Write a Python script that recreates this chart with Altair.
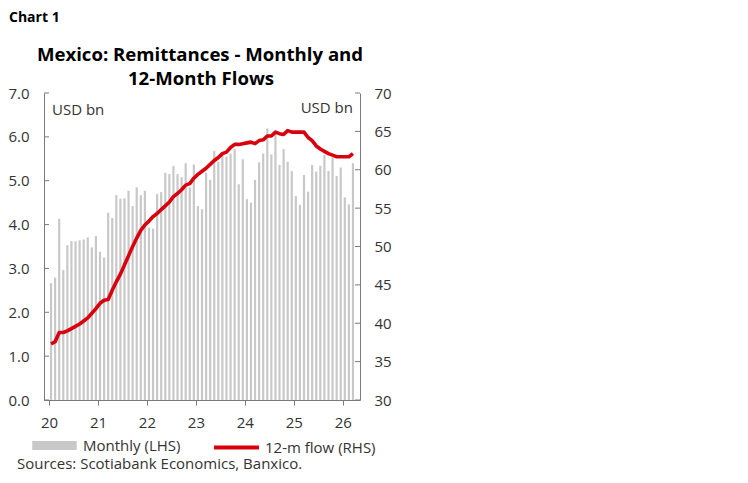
import altair as alt
import pandas as pd

# ---- data (Jan 2020 .. Mar 2026) ----
monthly = [2.66, 2.79, 4.13, 2.96, 3.53, 3.62, 3.62, 3.64, 3.66, 3.71, 3.48, 3.74,
           3.38, 3.25, 4.27, 4.15, 4.67, 4.59, 4.60, 4.77, 4.42, 4.85, 4.67, 4.77,
           3.93, 3.91, 4.70, 4.74, 5.18, 5.15, 5.34, 5.15, 5.08, 5.40, 4.85, 5.37,
           4.42, 4.35, 5.18, 5.02, 5.68, 5.43, 5.66, 5.55, 5.62, 5.72, 4.92, 5.49,
           4.58, 4.50, 5.02, 5.42, 5.62, 6.19, 5.60, 6.09, 5.36, 5.72, 5.43, 5.22,
           4.65, 4.45, 5.13, 4.75, 5.36, 5.21, 5.34, 5.59, 5.22, 5.53, 5.11, 5.30,
           4.62, 4.46, 5.40]
flow12 = [37.3, 37.6, 38.8, 38.8, 39.0, 39.3, 39.6, 39.9, 40.3, 40.7, 41.3, 41.9,
          42.6, 43.0, 43.1, 44.3, 45.4, 46.4, 47.6, 48.8, 50.0, 51.1, 52.1, 52.8,
          53.3, 53.9, 54.3, 54.8, 55.3, 55.8, 56.5, 56.9, 57.4, 58.0, 58.2, 58.9,
          59.4, 59.8, 60.2, 60.7, 61.2, 61.6, 62.1, 62.3, 62.9, 63.3, 63.3, 63.4,
          63.5, 63.6, 63.4, 63.8, 63.9, 64.4, 64.4, 64.9, 64.7, 64.6, 65.1, 64.9,
          64.9, 64.9, 64.9, 64.2, 63.8, 63.1, 62.7, 62.4, 62.1, 61.9, 61.7, 61.7,
          61.7, 61.7, 62.1]
year_labels = ["20", "21", "22", "23", "24", "25", "26"]
left_ticks = [0, 1, 2, 3, 4, 5, 6, 7]
right_ticks = [30, 35, 40, 45, 50, 55, 60, 65, 70]
series_names = ["Monthly (LHS)", "12-m flow (RHS)"]
title_lines = ["Mexico: Remittances - Monthly and", "12-Month Flows"]

n = len(monthly)
month_pos = [i + 0.5 for i in range(n)]
year_pos = [12 * k for k in range(len(year_labels))]

bars_df = pd.DataFrame({"m": month_pos, "v": monthly, "series": series_names[0]})
line_df = pd.DataFrame({"m": month_pos, "v": flow12, "series": series_names[1]})
lt_df = pd.DataFrame({"v": left_ticks})
rt_df = pd.DataFrame({"v": right_ticks})

GRAY = "#c8c8c8"
RED = "#d9000d"
AX = "#7a7a7a"
TXT = "#333333"
FONT = "Open Sans"
FS = 15
W, H = 316, 307

xscale = alt.Scale(domain=[0, n], nice=False, zero=False)
xaxis = alt.Axis(values=year_pos, labelExpr="datum.value/12 + 20", title=None,
                 tickSize=5, tickColor=AX, domainColor=AX, labelFontSize=FS,
                 labelColor=TXT, labelPadding=10, grid=False)
lscale = alt.Scale(domain=[0, 7], nice=False, zero=True)
laxis = alt.Axis(values=left_ticks, format=".1f", title=None, tickSize=0,
                 domainColor=AX, labelFontSize=FS, labelColor=TXT,
                 labelPadding=15, grid=False)
rscale = alt.Scale(domain=[30, 70], nice=False, zero=False)
raxis = alt.Axis(values=right_ticks, orient="right", title=None, tickSize=0,
                 domainColor=AX, labelFontSize=FS, labelColor=TXT,
                 labelPadding=14, grid=False)

fill = alt.Fill("series:N",
                scale=alt.Scale(domain=[series_names[0]], range=[GRAY]),
                legend=alt.Legend(orient="none", legendX=-12, legendY=330,
                                  title=None, labelFontSize=FS, labelColor=TXT,
                                  labelFont=FONT, symbolSize=1980, labelOffset=6,
                                  symbolType="M-1,-0.2H1V0.2H-1Z",
                                  symbolStrokeWidth=0, symbolOpacity=1))
stroke = alt.Stroke("series:N",
                    scale=alt.Scale(domain=[series_names[1]], range=[RED]),
                    legend=alt.Legend(orient="none", legendX=168, legendY=330,
                                      title=None, labelFontSize=FS, labelColor=TXT,
                                      labelFont=FONT, symbolSize=2025, labelOffset=4,
                                      symbolType="stroke", symbolStrokeWidth=4,
                                      symbolOpacity=1))

bars = alt.Chart(bars_df).mark_bar(width=2.2).encode(
    x=alt.X("m:Q", scale=xscale, axis=xaxis),
    y=alt.Y("v:Q", scale=lscale, axis=laxis),
    fill=fill,
)
lticks = alt.Chart(lt_df).mark_rule(color=AX, strokeWidth=1).encode(
    y=alt.Y("v:Q", scale=lscale, axis=laxis),
    x=alt.value(0), x2=alt.value(5),
)
line = alt.Chart(line_df).mark_line(strokeWidth=3.6, strokeJoin="round").encode(
    x=alt.X("m:Q", scale=xscale, axis=xaxis),
    y=alt.Y("v:Q", scale=rscale, axis=raxis),
    stroke=stroke,
)
rticks = alt.Chart(rt_df).mark_rule(color=AX, strokeWidth=1).encode(
    y=alt.Y("v:Q", scale=rscale, axis=raxis),
    x=alt.value(W - 5), x2=alt.value(W),
)

def label(txt, x, y, size=FS, weight="normal", align="left", color=TXT):
    return alt.Chart(pd.DataFrame({"t": [txt]})).mark_text(
        align=align, baseline="alphabetic", fontSize=size, fontWeight=weight,
        color=color, font=FONT
    ).encode(x=alt.value(x), y=alt.value(y), text="t:N")

notes = [
    label("Chart 1", -35, -71, size=14, weight="bold", color="#000000"),
    label(title_lines[0], 156, -32, size=18.6, weight="bold", align="center", color="#000000"),
    label(title_lines[1], 157, -8, size=18.6, weight="bold", align="center", color="#000000"),
    label("USD bn", 8, 22),
    label("USD bn", 309, 20, align="right"),
    label("Sources: Scotiabank Economics, Banxico.", -27, 376),
]

left = alt.layer(bars, lticks, *notes)
right = alt.layer(line, rticks)

chart = alt.layer(left, right).resolve_scale(y="independent").properties(
    width=W, height=H,
    autosize=alt.AutoSizeParams(type="none"),
    padding={"left": 36, "top": 85, "right": 48, "bottom": 80},
).configure(font=FONT).configure_view(stroke=None)

chart.save("out.html", embed_options={"renderer": "svg", "actions": False})
